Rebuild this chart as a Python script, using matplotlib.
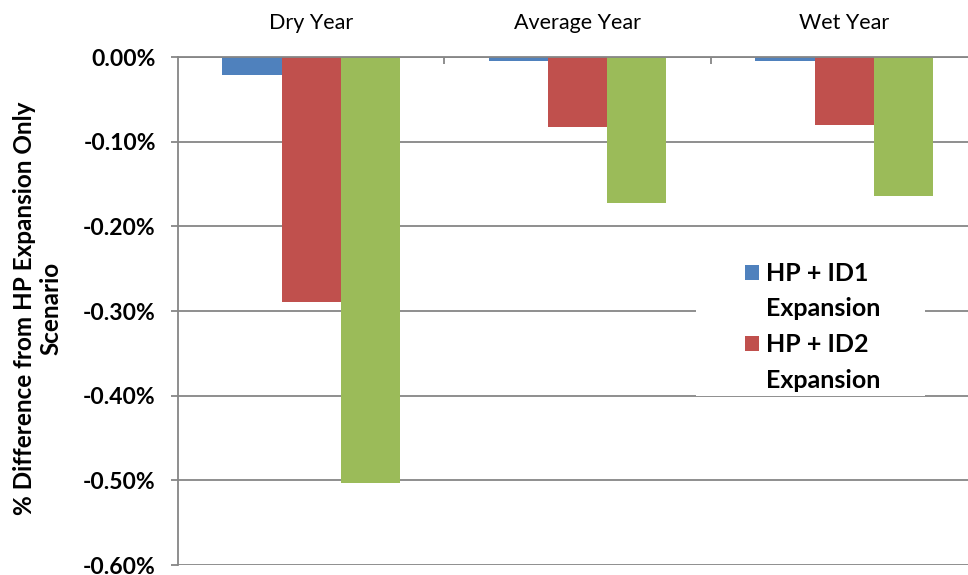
import matplotlib
matplotlib.use('Agg')
import matplotlib.pyplot as plt
import numpy as np
from matplotlib.patches import Patch, Rectangle

plt.rcParams['font.family'] = ['Lato', 'DejaVu Sans']

# Values (% difference)
categories = ['Dry Year', 'Average Year', 'Wet Year']
hp_id1 = [-0.021, -0.005, -0.005]
hp_id2 = [-0.289, -0.083, -0.080]
hp_id3 = [-0.503, -0.172, -0.164]
series = [hp_id1, hp_id2, hp_id3]
legend_lines = [['HP + ID1', 'Expansion'], ['HP + ID2', 'Expansion']]
yticks = [0.0, -0.1, -0.2, -0.3, -0.4, -0.5, -0.6]

colors = ['#4F81BD', '#C0504D', '#9BBB59']
grid_c = '#868686'
W, H = 968, 575

fig = plt.figure(figsize=(W / 100, H / 100), dpi=100)
ax = fig.add_axes([178 / W, 10 / H, 790 / W, 508 / H])

x = np.arange(len(categories))
bw = 0.222
bars = []
for i, vals in enumerate(series):
    b = ax.bar(x + (i - 1) * bw, vals, bw, color=colors[i], zorder=2)
    bars.append(b)

ax.set_xlim(-0.5, 2.465)
ax.set_ylim(-0.6, 0)

# grid
ax.set_axisbelow(True)
ax.set_yticks(yticks)
ax.set_yticklabels([f'{v:.2f}%' for v in yticks], fontweight='bold', fontsize=16.5)
ax.yaxis.grid(True, color=grid_c, linewidth=1.3)
ax.tick_params(axis='y', length=5, width=1.3, color=grid_c, pad=11)

# categories on top
ax.xaxis.set_ticks_position('top')
ax.set_xticks(x)
ax.set_xticklabels(categories, fontsize=15.5)
ax.tick_params(axis='x', which='major', length=0, pad=17)
ax.set_xticks([0.5, 1.5], minor=True)
ax.tick_params(axis='x', which='minor', direction='in', length=5, width=1.3, color=grid_c)

for s in ['right', 'bottom']:
    ax.spines[s].set_visible(False)
for s in ['left', 'top']:
    ax.spines[s].set_color(grid_c)
    ax.spines[s].set_linewidth(1.3)
    ax.spines[s].set_zorder(3)

fig.text(38 / W, 1 - 308 / H, '% Difference from HP Expansion Only\nScenario',
         rotation=90, ha='center', va='center', multialignment='center',
         fontweight='bold', fontsize=17.5, linespacing=1.2)

# legend (third series is cut off in the original)
bg = Rectangle((696 / W, 1 - 396 / H), (925 - 696) / W, (396 - 248) / H,
               transform=fig.transFigure, facecolor='white', edgecolor='none', zorder=4)
ax.add_patch(bg)
bg.set_clip_on(False)
handles, labels = [], []
for i, (l1, l2) in enumerate(legend_lines):
    handles += [Patch(facecolor=colors[i]), Patch(facecolor='none', edgecolor='none')]
    labels += [l1, l2]
leg = ax.legend(handles, labels, loc='upper left', bbox_to_anchor=(745 / W, 1 - 262 / H),
                bbox_transform=fig.transFigure, frameon=False, borderpad=0, borderaxespad=0,
                handlelength=0.55, handleheight=0.55, handletextpad=0.3, labelspacing=0.5,
                prop={'weight': 'bold', 'size': 18})
leg.set_zorder(5)

fig.savefig('out.png', dpi=100)
